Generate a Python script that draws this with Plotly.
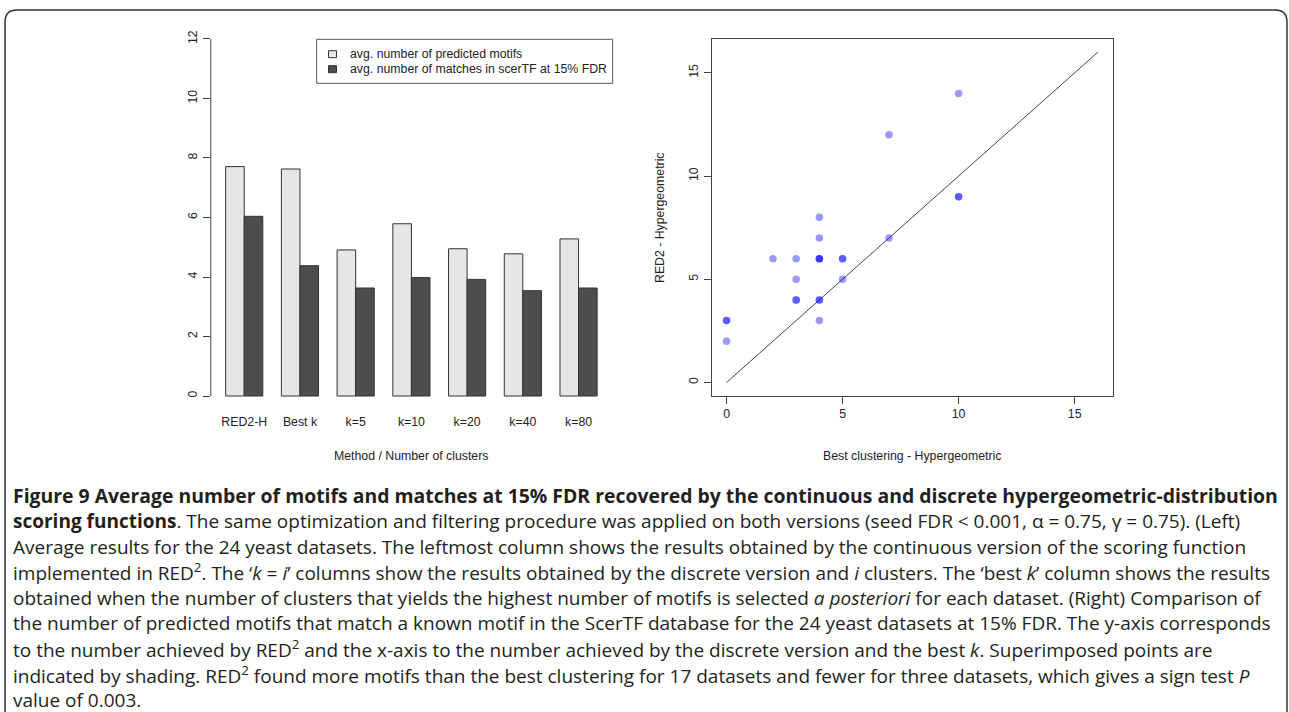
import plotly.graph_objects as go

W, H = 1289, 712

# ---------------- data ----------------
methods = ["RED2-H", "Best k", "k=5", "k=10", "k=20", "k=40", "k=80"]
avg_predicted = [7.71, 7.63, 4.91, 5.79, 4.95, 4.78, 5.28]
avg_matches = [6.04, 4.38, 3.63, 3.98, 3.92, 3.54, 3.63]
series_names = ["avg. number of predicted motifs",
                "avg. number of matches in scerTF at 15% FDR"]
series_colors = ["#E6E6E6", "#4D4D4D"]
bar_ticks = [0, 2, 4, 6, 8, 10, 12]

best_clustering = [0, 0, 0, 2, 3, 3, 3, 3, 4, 4, 4, 4, 4, 4, 4, 4, 5, 5, 5, 7, 7, 10, 10, 10]
red2_hyper = [2, 3, 3, 6, 6, 5, 4, 4, 8, 7, 6, 6, 6, 4, 4, 3, 6, 6, 5, 12, 7, 14, 9, 9]
diag_line = [0, 16]
scatter_ticks = [0, 5, 10, 15]

caption_lines = [
    "<b>Figure 9 Average number of motifs and matches at 15% FDR recovered by the continuous and discrete hypergeometric-distribution</b>",
    "<b>scoring functions</b>. The same optimization and filtering procedure was applied on both versions (seed FDR &lt; 0.001, α = 0.75, γ = 0.75). (Left)",
    "Average results for the 24 yeast datasets. The leftmost column shows the results obtained by the continuous version of the scoring function",
    "implemented in RED<sup>2</sup>. The ‘<i>k</i> = <i>i</i>’ columns show the results obtained by the discrete version and <i>i</i> clusters. The ‘best <i>k</i>’ column shows the results",
    "obtained when the number of clusters that yields the highest number of motifs is selected <i>a posteriori</i> for each dataset. (Right) Comparison of",
    "the number of predicted motifs that match a known motif in the ScerTF database for the 24 yeast datasets at 15% FDR. The y-axis corresponds",
    "to the number achieved by RED<sup>2</sup> and the x-axis to the number achieved by the discrete version and the best <i>k</i>. Superimposed points are",
    "indicated by shading. RED<sup>2</sup> found more motifs than the best clustering for 17 datasets and fewer for three datasets, which gives a sign test <i>P</i>",
    "value of 0.003.",
]
caption_sizes = [19.4, 19, 19, 19, 19, 19, 19, 19, 19]


def px(x):
    return x / W


def py(y):
    return 1 - y / H


AX = "#444444"
FONT = "Liberation Sans, Arial, sans-serif"
FS = 12.3

fig = go.Figure()

# ---------------- left: grouped bars ----------------
for name, vals, col in zip(series_names, [avg_predicted, avg_matches], series_colors):
    fig.add_trace(go.Bar(x=methods, y=vals, name=name, marker=dict(color=col, line=dict(color="#333333", width=1)),
                         xaxis="x", yaxis="y", showlegend=False))

# ---------------- right: scatter ----------------
fig.add_trace(go.Scatter(x=diag_line, y=diag_line, mode="lines", line=dict(color="#444444", width=1),
                         xaxis="x2", yaxis="y2", showlegend=False, hoverinfo="skip"))
fig.add_trace(go.Scatter(x=best_clustering, y=red2_hyper, mode="markers",
                         marker=dict(color="rgba(0,0,255,0.4)", size=7.5, line=dict(width=0)),
                         xaxis="x2", yaxis="y2", showlegend=False))

fig.update_layout(
    width=W, height=H, margin=dict(l=0, r=0, t=0, b=0),
    paper_bgcolor="white", plot_bgcolor="white",
    barmode="group", bargap=1/3, bargroupgap=0,
    font=dict(family=FONT, size=FS, color="#222222"),
    xaxis=dict(domain=[px(210.8), px(612)], anchor="y", type="category", range=[-0.6, 6.6],
               showline=False, ticks="", showgrid=False, zeroline=False,
               tickfont=dict(size=FS, color="#222222"), ticklabelstandoff=2),
    yaxis=dict(domain=[py(410.3), py(24.7)], anchor="x", range=[-0.48, 12.48],
               tickvals=bar_ticks, ticks="outside", ticklen=7, tickcolor=AX, tickwidth=1,
               showline=False, showgrid=False, zeroline=False, tickangle=-90,
               tickfont=dict(size=FS, color="#222222"), ticklabelstandoff=1),
    xaxis2=dict(domain=[px(711.7), px(1112.7)], anchor="y2", range=[-0.64, 16.64],
                tickvals=scatter_ticks, ticks="outside", ticklen=7, tickcolor=AX,
                showline=True, mirror=True, linecolor=AX, linewidth=1,
                showgrid=False, zeroline=False, tickfont=dict(size=FS, color="#222222")),
    yaxis2=dict(domain=[py(395.7), py(39)], anchor="x2", range=[-0.64, 16.64],
                tickvals=scatter_ticks, ticks="outside", ticklen=7, tickcolor=AX,
                showline=True, mirror=True, linecolor=AX, linewidth=1, tickangle=-90,
                showgrid=False, zeroline=False, tickfont=dict(size=FS, color="#222222"),
                ticklabelstandoff=1),
)

shapes = []
# left y axis line from 0 to 12
shapes.append(dict(type="line", xref="x domain", yref="y", x0=0, x1=0, y0=bar_ticks[0], y1=bar_ticks[-1],
                   line=dict(color=AX, width=1)))
# legend box
shapes.append(dict(type="rect", xref="paper", yref="paper", x0=px(316.7), x1=px(612.7), y0=py(83.3), y1=py(39.3),
                   line=dict(color="#555555", width=1), fillcolor="rgba(0,0,0,0)"))
annotations = []
for i, (name, col) in enumerate(zip(series_names, series_colors)):
    yc = 54.2 + 15 * i
    shapes.append(dict(type="rect", xref="paper", yref="paper", x0=px(328.5), x1=px(336.5),
                       y0=py(yc + 3.5), y1=py(yc - 3.5), line=dict(color="#333333", width=1), fillcolor=col))
    annotations.append(dict(text=name, xref="paper", yref="paper", x=px(348), y=py(yc), xanchor="left",
                            yanchor="middle", showarrow=False, font=dict(size=FS, color="#222222")))

# axis titles
annotations.append(dict(text="Method / Number of clusters", xref="paper", yref="paper", x=px(411.4), y=py(456),
                        xanchor="center", yanchor="middle", showarrow=False, font=dict(size=FS, color="#222222")))
annotations.append(dict(text="Best clustering - Hypergeometric", xref="paper", yref="paper", x=px(912.2), y=py(456),
                        xanchor="center", yanchor="middle", showarrow=False, font=dict(size=FS, color="#222222")))
annotations.append(dict(text="RED2 - Hypergeometric", xref="paper", yref="paper", x=px(660.7), y=py(217.3),
                        xanchor="center", yanchor="middle", showarrow=False, textangle=-90,
                        font=dict(size=FS, color="#222222")))

# caption
cap_y = [495, 521, 547, 572, 598, 623, 649, 675, 700]
for line, yc, fs in zip(caption_lines, cap_y, caption_sizes):
    annotations.append(dict(text=line, xref="paper", yref="paper", x=px(11), y=py(yc), xanchor="left",
                            yanchor="middle", showarrow=False,
                            font=dict(family="Open Sans, sans-serif", size=fs, color="#231f20")))

# outer frame with rounded top corners
r = 12
path = (f"M {px(5)},{py(712)} L {px(5)},{py(10 + r)} Q {px(5)},{py(10)} {px(5 + r)},{py(10)} "
        f"L {px(1287 - r)},{py(10)} Q {px(1287)},{py(10)} {px(1287)},{py(10 + r)} L {px(1287)},{py(712)}")
shapes.append(dict(type="path", xref="paper", yref="paper", path=path, line=dict(color="#333333", width=1.5)))

fig.update_layout(shapes=shapes, annotations=annotations)
fig.write_html("out.html")
